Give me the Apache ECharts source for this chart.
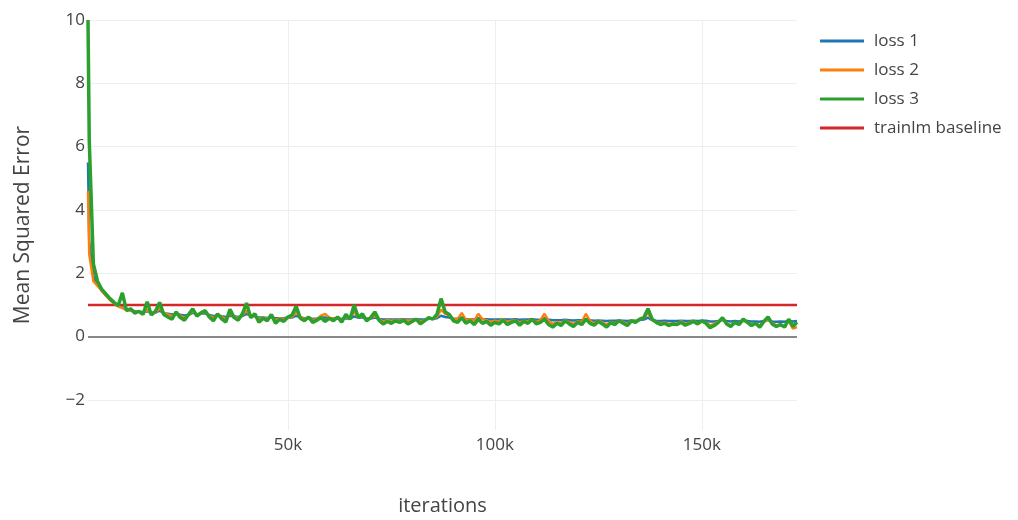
<!DOCTYPE html>
<html>
<head>
<meta charset="utf-8">
<script src="https://cdn.jsdelivr.net/npm/echarts@6/dist/echarts.min.js"></script>
<style>
    html, body { margin: 0; padding: 0; background: #fff; }
    #lossChart { width: 1018px; height: 520px; }
</style>
</head>
<body>
<div id="lossChart"></div>
<script>
// iterations, in thousands
const iterK = [
    1.7, 2, 3, 4, 5, 6, 7, 8, 9, 10,
    11, 12, 13, 14, 15, 16, 17, 18, 19, 20,
    21, 22, 23, 24, 25, 26, 27, 28, 29, 30,
    31, 32, 33, 34, 35, 36, 37, 38, 39, 40,
    41, 42, 43, 44, 45, 46, 47, 48, 49, 50,
    51, 52, 53, 54, 55, 56, 57, 58, 59, 60,
    61, 62, 63, 64, 65, 66, 67, 68, 69, 70,
    71, 72, 73, 74, 75, 76, 77, 78, 79, 80,
    81, 82, 83, 84, 85, 86, 87, 88, 89, 90,
    91, 92, 93, 94, 95, 96, 97, 98, 99, 100,
    101, 102, 103, 104, 105, 106, 107, 108, 109, 110,
    111, 112, 113, 114, 115, 116, 117, 118, 119, 120,
    121, 122, 123, 124, 125, 126, 127, 128, 129, 130,
    131, 132, 133, 134, 135, 136, 137, 138, 139, 140,
    141, 142, 143, 144, 145, 146, 147, 148, 149, 150,
    151, 152, 153, 154, 155, 156, 157, 158, 159, 160,
    161, 162, 163, 164, 165, 166, 167, 168, 169, 170,
    171, 172, 173
];

const loss1 = [
    5.5, 3.0, 1.9, 1.65, 1.45, 1.3, 1.18, 1.06, 0.98, 0.92,
    0.86, 0.83, 0.8, 0.79, 0.77, 0.8, 0.75, 0.76, 0.82, 0.74,
    0.72, 0.7, 0.72, 0.69, 0.67, 0.69, 0.75, 0.71, 0.72, 0.74,
    0.68, 0.65, 0.67, 0.64, 0.62, 0.66, 0.64, 0.62, 0.65, 0.72,
    0.66, 0.64, 0.6, 0.6, 0.59, 0.61, 0.58, 0.58, 0.58, 0.6,
    0.6, 0.66, 0.6, 0.58, 0.59, 0.56, 0.57, 0.6, 0.6, 0.58,
    0.57, 0.58, 0.56, 0.58, 0.57, 0.64, 0.6, 0.6, 0.57, 0.57,
    0.6, 0.56, 0.54, 0.54, 0.54, 0.54, 0.54, 0.55, 0.54, 0.54,
    0.55, 0.54, 0.54, 0.56, 0.56, 0.58, 0.66, 0.62, 0.6, 0.56,
    0.56, 0.6, 0.56, 0.55, 0.54, 0.58, 0.56, 0.55, 0.54, 0.54,
    0.54, 0.55, 0.54, 0.54, 0.55, 0.53, 0.54, 0.54, 0.55, 0.53,
    0.53, 0.58, 0.53, 0.52, 0.52, 0.52, 0.53, 0.52, 0.51, 0.52,
    0.52, 0.56, 0.52, 0.5, 0.51, 0.5, 0.49, 0.5, 0.5, 0.51,
    0.5, 0.49, 0.51, 0.5, 0.52, 0.54, 0.6, 0.52, 0.5, 0.49,
    0.5, 0.49, 0.49, 0.49, 0.5, 0.49, 0.49, 0.5, 0.49, 0.5,
    0.5, 0.48, 0.48, 0.49, 0.52, 0.49, 0.48, 0.49, 0.48, 0.5,
    0.49, 0.48, 0.48, 0.47, 0.49, 0.52, 0.48, 0.47, 0.48, 0.47,
    0.5, 0.48, 0.49
];

const loss2 = [
    4.6, 2.6, 1.75, 1.6, 1.45, 1.3, 1.15, 1.05, 0.95, 0.9,
    0.85, 0.82, 0.78, 0.8, 0.74, 0.85, 0.72, 0.76, 0.9, 0.74,
    0.7, 0.65, 0.72, 0.66, 0.6, 0.68, 0.8, 0.7, 0.72, 0.78,
    0.66, 0.6, 0.68, 0.62, 0.55, 0.72, 0.64, 0.58, 0.68, 0.82,
    0.64, 0.66, 0.55, 0.6, 0.56, 0.64, 0.52, 0.58, 0.56, 0.6,
    0.62, 0.78, 0.62, 0.56, 0.6, 0.52, 0.56, 0.66, 0.72, 0.6,
    0.56, 0.6, 0.52, 0.62, 0.58, 0.78, 0.62, 0.66, 0.56, 0.58,
    0.66, 0.55, 0.48, 0.52, 0.5, 0.52, 0.5, 0.54, 0.5, 0.52,
    0.55, 0.48, 0.52, 0.58, 0.56, 0.62, 0.85, 0.72, 0.66, 0.55,
    0.55, 0.75, 0.52, 0.55, 0.5, 0.72, 0.55, 0.52, 0.46, 0.5,
    0.48, 0.55, 0.45, 0.5, 0.52, 0.44, 0.5, 0.48, 0.56, 0.46,
    0.52, 0.72, 0.5, 0.4, 0.46, 0.42, 0.52, 0.46, 0.4, 0.48,
    0.46, 0.72, 0.5, 0.42, 0.5, 0.45, 0.38, 0.46, 0.42, 0.5,
    0.46, 0.4, 0.52, 0.48, 0.55, 0.58, 0.75, 0.52, 0.46, 0.42,
    0.45, 0.4, 0.42, 0.4, 0.48, 0.4, 0.45, 0.5, 0.42, 0.48,
    0.45, 0.35, 0.4, 0.48, 0.55, 0.42, 0.36, 0.46, 0.4, 0.52,
    0.46, 0.38, 0.42, 0.35, 0.46, 0.55, 0.42, 0.36, 0.38, 0.32,
    0.5, 0.25, 0.3
];

const loss3 = [
    10, 6.2, 2.3, 1.75, 1.5, 1.35, 1.2, 1.08, 0.98, 1.38,
    0.82, 0.88, 0.74, 0.8, 0.7, 1.1, 0.68, 0.8, 1.08, 0.7,
    0.62, 0.55, 0.78, 0.6, 0.52, 0.7, 0.88, 0.65, 0.75, 0.82,
    0.62, 0.5, 0.72, 0.56, 0.46, 0.86, 0.6, 0.52, 0.72, 1.06,
    0.6, 0.72, 0.45, 0.58, 0.5, 0.7, 0.42, 0.55, 0.48, 0.62,
    0.68, 0.96, 0.58, 0.5, 0.62, 0.45, 0.52, 0.6, 0.48, 0.58,
    0.5, 0.62, 0.46, 0.7, 0.55, 1.0, 0.6, 0.72, 0.5, 0.6,
    0.78, 0.52, 0.4, 0.48, 0.42, 0.5, 0.45, 0.52, 0.4, 0.48,
    0.55, 0.4, 0.5, 0.6, 0.55, 0.7, 1.2, 0.78, 0.7, 0.5,
    0.45, 0.6, 0.42, 0.5, 0.38, 0.55, 0.42, 0.48, 0.36, 0.45,
    0.4, 0.52, 0.38, 0.45, 0.5, 0.36, 0.48, 0.42, 0.55, 0.4,
    0.45, 0.55, 0.38, 0.3, 0.42, 0.35, 0.5, 0.4, 0.32, 0.45,
    0.38, 0.55, 0.42, 0.36, 0.48, 0.4, 0.3, 0.44, 0.38, 0.5,
    0.42, 0.35, 0.5, 0.45, 0.55, 0.6, 0.88, 0.55, 0.45, 0.38,
    0.42, 0.35, 0.4, 0.38, 0.45, 0.36, 0.42, 0.48, 0.4, 0.5,
    0.42, 0.28, 0.35, 0.45, 0.6, 0.4, 0.32, 0.45, 0.38, 0.55,
    0.45, 0.35, 0.42, 0.3, 0.48, 0.62, 0.4, 0.32, 0.38, 0.3,
    0.55, 0.32, 0.45
];

const baselineValue = 1;
const yTicks = [-2, 0, 2, 4, 6, 8, 10];
const xTicks = [50000, 100000, 150000];

const chartDom = document.getElementById('lossChart');
const myChart = echarts.init(chartDom, null, { renderer: 'canvas' });

const fontFamily = '"Open Sans", "Noto Sans", sans-serif';

function toPairs(values) {
    return values.map((v, i) => [iterK[i] * 1000, v]);
}

const xMin = iterK[0] * 1000;
const xMax = iterK[iterK.length - 1] * 1000;

const lineSeries = (name, values, color, width) => ({
    name: name,
    type: 'line',
    data: toPairs(values),
    showSymbol: false,
    symbol: 'none',
    lineStyle: { color: color, width: width },
    itemStyle: { color: color },
    silent: true,
});

const option = {
    animation: false,
    backgroundColor: '#fff',
    textStyle: { fontFamily: fontFamily },
    grid: {
        left: 88,
        right: 221,
        top: 20,
        bottom: 90,
        containLabel: false,
        outerBoundsMode: 'none',
    },
    legend: {
        orient: 'vertical',
        left: 820,
        top: 31,
        padding: 0,
        icon: 'rect',
        itemWidth: 44,
        itemHeight: 3,
        itemGap: 9,
        textStyle: {
            color: '#444',
            fontSize: 17,
            fontFamily: fontFamily,
            padding: [0, 0, 0, 5],
            lineHeight: 20,
        },
        data: ['loss 1', 'loss 2', 'loss 3', 'trainlm baseline'],
    },
    xAxis: {
        type: 'value',
        min: xMin,
        max: xMax,
        name: 'iterations',
        nameLocation: 'middle',
        nameGap: 66,
        nameTextStyle: { color: '#444', fontSize: 20, fontFamily: fontFamily },
        axisLine: { show: false },
        axisTick: { show: false, customValues: xTicks },
        axisLabel: {
            customValues: xTicks,
            color: '#444',
            fontSize: 17,
            margin: 7,
            formatter: (v) => (v / 1000) + 'k',
        },
        splitLine: { show: true, lineStyle: { color: '#eee', width: 1 } },
    },
    yAxis: {
        type: 'value',
        min: -2.95,
        max: 10,
        name: 'Mean Squared Error',
        nameLocation: 'middle',
        nameGap: 54,
        nameTextStyle: { color: '#444', fontSize: 21, fontFamily: fontFamily },
        axisLine: { show: false },
        axisTick: { show: false, customValues: yTicks },
        axisLabel: {
            customValues: yTicks,
            color: '#444',
            fontSize: 17,
            margin: 3,
            formatter: (v) => (v < 0 ? '\u2212' + Math.abs(v) : String(v)),
        },
        splitLine: { show: true, lineStyle: { color: '#eee', width: 1 } },
    },
    series: [
        lineSeries('loss 1', loss1, '#1f77b4', 2.5),
        lineSeries('loss 2', loss2, '#ff7f0e', 2.5),
        lineSeries('loss 3', loss3, '#2ca02c', 3.5),
        {
            name: 'trainlm baseline',
            type: 'line',
            data: [[xMin, baselineValue], [xMax, baselineValue]],
            showSymbol: false,
            symbol: 'none',
            lineStyle: { color: '#d62728', width: 2.5 },
            itemStyle: { color: '#d62728' },
            silent: true,
            z: 1,
            markLine: {
                silent: true,
                symbol: 'none',
                label: { show: false },
                lineStyle: { color: '#888', width: 2, type: 'solid' },
                data: [{ yAxis: 0 }],
            },
        },
    ],
};

myChart.setOption(option);
</script>
</body>
</html>
